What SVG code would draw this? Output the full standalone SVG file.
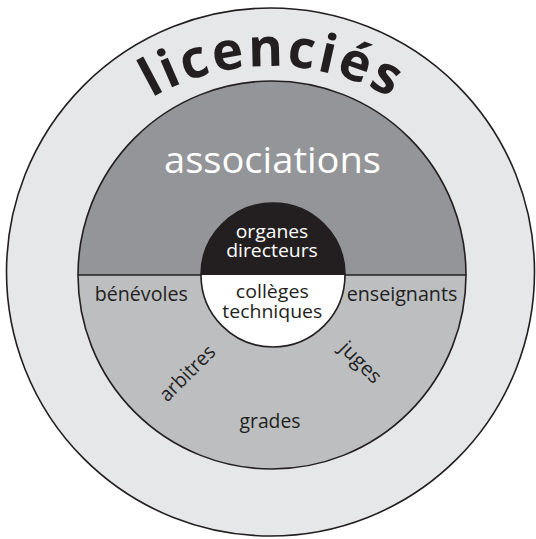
<svg xmlns="http://www.w3.org/2000/svg" width="536" height="539" viewBox="0 0 536 539">
<style>
.ln{stroke:#231f20;stroke-width:1.6;}
.lbl{font-family:"Open Sans","Noto Sans",sans-serif;font-size:20px;fill:#231f20;text-anchor:middle;}
.sm{font-size:19px;}
.wh{fill:#ffffff;}
</style>
<defs>
<path id="arcTop" d="M101.3,136.3 A240,240 0 0 1 440.7,136.3"/>
</defs>
<rect width="536" height="539" fill="#ffffff"/>
<g id="licencies">
<circle cx="270.5" cy="272" r="264" fill="#e6e7e8" class="ln"/>
<text style="font-family:'Open Sans','Noto Sans',sans-serif;font-weight:bold;font-size:53px;fill:#231f20;text-anchor:middle;"><textPath href="#arcTop" startOffset="50%" textLength="250" lengthAdjust="spacing">licenciés</textPath></text>
</g>
<g id="associations">
<path d="M78,275 A194,194 0 0 1 466,275 Z" fill="#939598"/>
<path d="M78,275 A194,194 0 0 0 466,275 Z" fill="#bcbec0"/>
<circle cx="272" cy="275" r="194" fill="none" class="ln"/>
<path d="M78,275 H466" class="ln" fill="none"/>
<text class="lbl wh" x="272.5" y="172.5" style="font-size:37px" textLength="217" lengthAdjust="spacingAndGlyphs">associations</text>
</g>
<g id="centre">
<path d="M201,275 A72,72 0 0 1 345,275 Z" fill="#231f20"/>
<path d="M201,275 A72,72 0 0 0 345,275 Z" fill="#ffffff"/>
<circle cx="273" cy="275" r="72" fill="none" class="ln"/>
</g>
<g id="organes-directeurs">
<text class="lbl sm wh" x="272" y="237.7" textLength="72.6" lengthAdjust="spacingAndGlyphs">organes</text>
<text class="lbl sm wh" x="272" y="256.7" textLength="91.7" lengthAdjust="spacingAndGlyphs">directeurs</text>
</g>
<g id="colleges-techniques">
<text class="lbl sm" x="272.3" y="297.7" textLength="73" lengthAdjust="spacingAndGlyphs">collèges</text>
<text class="lbl sm" x="272.3" y="317.5" textLength="100" lengthAdjust="spacingAndGlyphs">techniques</text>
</g>
<g id="benevoles">
<text class="lbl" x="141.3" y="300.7" textLength="93" lengthAdjust="spacingAndGlyphs">bénévoles</text>
</g>
<g id="enseignants">
<text class="lbl" x="402" y="300.7" textLength="110.6" lengthAdjust="spacingAndGlyphs">enseignants</text>
</g>
<g id="arbitres">
<text class="lbl" transform="translate(192,378) rotate(-45)" textLength="70" lengthAdjust="spacingAndGlyphs">arbitres</text>
</g>
<g id="juges">
<text class="lbl" transform="translate(356,367) rotate(45)" textLength="50" lengthAdjust="spacingAndGlyphs">juges</text>
</g>
<g id="grades">
<text class="lbl" x="270" y="428" textLength="61" lengthAdjust="spacingAndGlyphs">grades</text>
</g>
<g id="connectors"></g>
</svg>
